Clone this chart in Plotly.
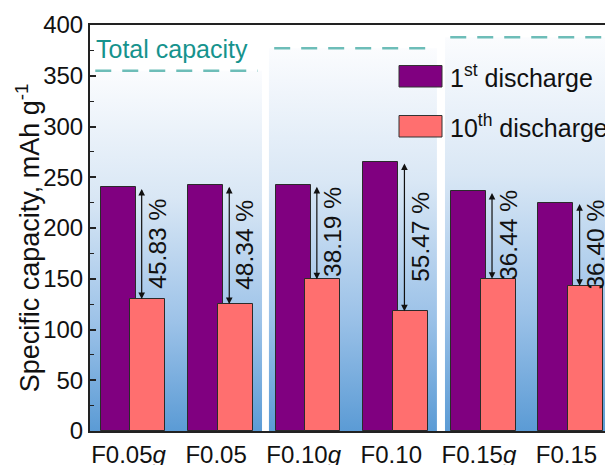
import plotly.graph_objects as go

# Sample groups and measured capacities (mAh g^-1)
categories = ["F0.05<i>g</i>", "F0.05", "F0.10<i>g</i>", "F0.10", "F0.15<i>g</i>", "F0.15"]
first_discharge = [240, 242, 242, 265, 236, 225]
tenth_discharge = [130, 125, 149.5, 118, 150, 143]
fade_labels = ["45.83 %", "48.34 %", "38.19 %", "55.47 %", "36.44 %", "36.40 %"]
# Theoretical total capacity for each pair of samples
total_capacity = [355, 377, 388]

FONT = "Liberation Sans, Arial, sans-serif"
PURPLE = "#800080"
SALMON = "#FF6F6F"
TEAL_LINE = "#6dbdb8"
TEAL_TEXT = "#16938d"

x_min, x_max = -0.49, 5.39
y_min, y_max = 0, 400
idx = list(range(len(categories)))

fig = go.Figure()

# Gradient panels (base axes): one per pair of samples, topped by the total capacity
panel_lo = [x_min, 1.553, 3.563]
panel_hi = [1.474, 3.471, x_max + 0.2]
for k, cap in enumerate(total_capacity):
    lo, hi = panel_lo[k], panel_hi[k]
    fig.add_trace(go.Scatter(
        x=[lo, hi, hi, lo, lo], y=[0, 0, cap, cap, 0],
        mode="lines", line=dict(width=0), fill="toself",
        fillgradient=dict(type="vertical", start=0, stop=cap,
                          colorscale=[[0, "#5B9BD5"], [0.3, "#9cc2e8"],
                                      [0.65, "#d9e7f5"], [1, "#fbfcfe"]]),
        hoverinfo="skip", showlegend=False))
    fig.add_trace(go.Scatter(
        x=[lo + 0.06, hi - 0.05], y=[cap, cap],
        mode="lines", line=dict(color=TEAL_LINE, width=2.5, dash="16px,11px"),
        hoverinfo="skip", showlegend=False))

# Bars on an overlaid pair of axes so they sit above the panels
bar_w = 0.40
off = 0.17
fig.add_trace(go.Bar(
    x=[i - off for i in idx], y=first_discharge, width=bar_w,
    marker=dict(color=PURPLE, line=dict(color="#2b2b2b", width=1)),
    name="1st discharge", showlegend=False, xaxis="x2", yaxis="y2"))
fig.add_trace(go.Bar(
    x=[i + off for i in idx], y=tenth_discharge, width=bar_w,
    marker=dict(color=SALMON, line=dict(color="#2b2b2b", width=1)),
    name="10th discharge", showlegend=False, xaxis="x2", yaxis="y2"))

annotations = []
for i, (a, b, lab) in enumerate(zip(first_discharge, tenth_discharge, fade_labels)):
    # double-headed arrow spanning the capacity loss
    annotations.append(dict(
        x=i + 0.1, y=b, ax=i + 0.1, ay=a, xref="x", yref="y", axref="x", ayref="y",
        text="", showarrow=True, arrowhead=2, startarrowhead=2, arrowside="end+start",
        arrowsize=1.1, startarrowsize=1.1, arrowwidth=1.2, arrowcolor="#111",
        standoff=0, startstandoff=0))
    annotations.append(dict(
        x=i + 0.28, y=(a + b) / 2, xref="x", yref="y", text=lab, textangle=-90,
        showarrow=False, font=dict(family=FONT, size=24.5, color="#111"),
        xanchor="center", yanchor="middle"))

annotations.append(dict(
    x=-0.44, y=376, xref="x", yref="y", text="Total capacity", showarrow=False,
    xanchor="left", yanchor="middle", font=dict(family=FONT, size=25, color=TEAL_TEXT)))

annotations.append(dict(
    x=-0.12, y=0.475, xref="paper", yref="paper",
    text="Specific capacity, mAh g<sup>-1</sup>", textangle=-90, showarrow=False,
    xanchor="center", yanchor="middle", font=dict(family=FONT, size=27, color="#111")))

# Legend drawn as swatches with labels
legend_items = [("1<sup>st</sup> discharge", PURPLE), ("10<sup>th</sup> discharge", SALMON)]
shapes = []
for j, (label, col) in enumerate(legend_items):
    y_top = 65.5 + j * 50
    y0 = 1 - (y_top - 25) / 406
    y1 = 1 - (y_top + 21.5 - 25) / 406
    x0 = (399 - 90) / 515
    x1 = (442 - 90) / 515
    shapes.append(dict(type="rect", xref="paper", yref="paper", x0=x0, x1=x1, y0=y1, y1=y0,
                       fillcolor=col, line=dict(color="#333", width=1)))
    annotations.append(dict(
        x=(448 - 90) / 515, y=(y0 + y1) / 2, xref="paper", yref="paper", text=label,
        showarrow=False, xanchor="left", yanchor="middle",
        font=dict(family=FONT, size=25, color="#111")))

fig.update_layout(
    width=605, height=465,
    margin=dict(l=90, r=0, t=25, b=34, autoexpand=False),
    paper_bgcolor="white", plot_bgcolor="white",
    barmode="overlay", bargap=0,
    font=dict(family=FONT, size=24, color="#111"),
    annotations=annotations, shapes=shapes,
    xaxis=dict(range=[x_min, x_max], tickvals=[i - 0.05 for i in idx], ticktext=categories,
               showline=True, linecolor="#222", linewidth=2, mirror=True,
               ticks="", showgrid=False, zeroline=False, ticklabelstandoff=1,
               automargin=False,
               tickfont=dict(family=FONT, size=24, color="#111")),
    yaxis=dict(range=[y_min, y_max], tickvals=list(range(0, 401, 50)),
               showline=True, linecolor="#222", linewidth=2, automargin=False,
               ticks="inside", ticklen=6, tickwidth=1.5, tickcolor="#222",
               minor=dict(ticks="inside", ticklen=4, tickwidth=1.2, tickcolor="#222", dtick=25),
               showgrid=False, zeroline=False,
               tickfont=dict(family=FONT, size=24, color="#111")),
    xaxis2=dict(range=[x_min, x_max], overlaying="x", visible=False),
    yaxis2=dict(range=[y_min, y_max], overlaying="y", visible=False),
)

fig.write_html("out.html")
